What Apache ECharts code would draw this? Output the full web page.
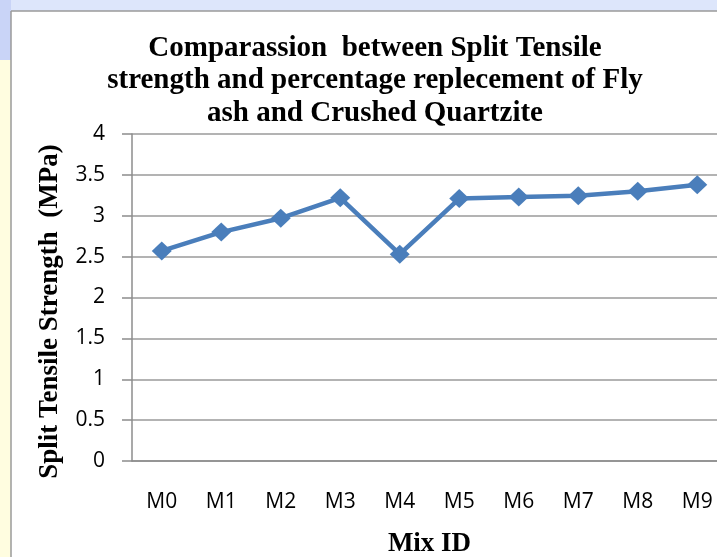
<!DOCTYPE html>
<html>
<head>
<meta charset="utf-8">
<script src="https://cdn.jsdelivr.net/npm/echarts@6/dist/echarts.min.js"></script>
<style>
  html, body { margin: 0; padding: 0; background: #fff; }
  #chart { width: 717px; height: 557px; }
</style>
</head>
<body>
<div id="chart"></div>
<script>
// data
var mixIds = ['M0', 'M1', 'M2', 'M3', 'M4', 'M5', 'M6', 'M7', 'M8', 'M9'];
var splitTensile = [2.57, 2.80, 2.97, 3.22, 2.53, 3.21, 3.23, 3.245, 3.30, 3.38];
var yTicks = [0, 0.5, 1, 1.5, 2, 2.5, 3, 3.5, 4];

var chart = echarts.init(document.getElementById('chart'));

var option = {
  backgroundColor: '#ffffff',
  animation: false,
  graphic: [
    // slide background strips round the chart
    { type: 'rect', shape: { x: 0, y: 0, width: 717, height: 11 }, style: { fill: '#dde6fb' }, z: -10 },
    { type: 'rect', shape: { x: 0, y: 0, width: 11, height: 60 }, style: { fill: '#c9d4f7' }, z: -10 },
    { type: 'rect', shape: { x: 0, y: 60, width: 11, height: 497 }, style: { fill: '#fffde0' }, z: -10 },
    { type: 'line', shape: { x1: 11, y1: 11, x2: 717, y2: 11 }, style: { stroke: '#9a9a9a', lineWidth: 1.5 }, z: -9 },
    { type: 'line', shape: { x1: 11, y1: 11, x2: 11, y2: 557 }, style: { stroke: '#9a9a9a', lineWidth: 1.5 }, z: -9 }
  ],
  title: {
    text: 'Comparassion  between Split Tensile\nstrength and percentage replecement of Fly\nash and Crushed Quartzite',
    left: 370,
    textAlign: 'center',
    top: 27,
    textStyle: {
      fontFamily: 'Liberation Serif',
      fontWeight: 'bold',
      fontSize: 29,
      lineHeight: 32.5,
      color: '#000'
    }
  },
  grid: {
    left: 132,
    right: -10,
    top: 134,
    bottom: 96,
    outerBoundsMode: 'none'
  },
  xAxis: {
    type: 'category',
    data: mixIds,
    boundaryGap: true,
    name: 'Mix ID',
    nameLocation: 'middle',
    nameGap: 70,
    nameTextStyle: {
      fontFamily: 'Liberation Serif',
      fontWeight: 'bold',
      fontSize: 27,
      color: '#000'
    },
    axisLine: { lineStyle: { color: '#8c8c8c', width: 1.5 } },
    axisTick: { show: false },
    axisLabel: {
      margin: 31,
      fontFamily: 'Open Sans',
      fontSize: 21,
      color: '#000'
    }
  },
  yAxis: {
    type: 'value',
    min: 0,
    max: 4,
    interval: 0.5,
    name: 'Split Tensile Strength  (MPa)',
    nameLocation: 'middle',
    nameGap: 68,
    nameRotate: 90,
    nameTextStyle: {
      fontFamily: 'Liberation Serif',
      fontWeight: 'bold',
      fontSize: 27,
      color: '#000',
      padding: [0, 28, 0, 0]
    },
    axisLine: { show: true, lineStyle: { color: '#8c8c8c', width: 1.5 } },
    axisTick: { show: true, length: 10, lineStyle: { color: '#8c8c8c', width: 1.5 } },
    splitLine: { lineStyle: { color: '#9a9a9a', width: 1.5 } },
    axisLabel: {
      margin: 27,
      fontFamily: 'Open Sans',
      fontSize: 21,
      color: '#000',
      formatter: function (v) {
        return yTicks.indexOf(v) >= 0 ? String(v) : '';
      }
    }
  },
  series: [
    {
      type: 'line',
      data: splitTensile,
      symbol: 'diamond',
      symbolSize: [20, 19],
      lineStyle: { color: '#4a7ebb', width: 4.5 },
      itemStyle: { color: '#4a7ebb' }
    }
  ]
};

chart.setOption(option);
</script>
</body>
</html>
